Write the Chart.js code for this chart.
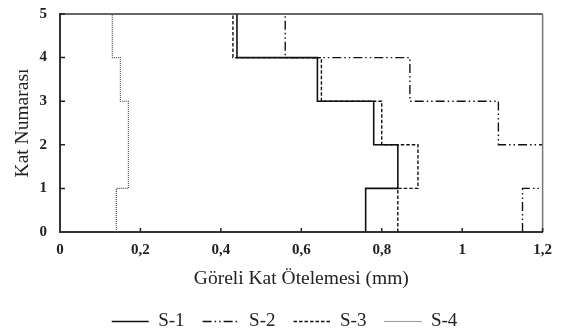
<!DOCTYPE html>
<html>
<head>
<meta charset="utf-8">
<script src="https://cdn.jsdelivr.net/npm/chart.js@4.4.1/dist/chart.umd.min.js"></script>
<style>
  html, body { margin: 0; padding: 0; background: #fff; }
  #wrap { width: 561px; height: 336px; }
</style>
</head>
<body>
<div id="wrap"><canvas id="chart-drift"></canvas></div>
<script>
// ---- DATA: relative storey drift (mm) per storey ----
const storeys = [1, 2, 3, 4, 5];
const driftS1 = [0.76, 0.84, 0.78, 0.64, 0.44];
const driftS2 = [1.15, 1.23, 1.09, 0.87, 0.56];
const driftS3 = [0.84, 0.89, 0.80, 0.65, 0.43];
const driftS4 = [0.14, 0.17, 0.17, 0.15, 0.13];
const xTicks = [0, 0.2, 0.4, 0.6, 0.8, 1, 1.2];
const yTicks = [0, 1, 2, 3, 4, 5];

// Build a step profile: each storey is a vertical segment from floor (n-1) to n
function stepPoints(values) {
  const pts = [];
  values.forEach((v, i) => {
    pts.push({ x: v, y: storeys[i] - 1 });
    pts.push({ x: v, y: storeys[i] });
  });
  return pts;
}

const SERIF = "'Liberation Serif', 'Times New Roman', serif";
const fmtComma = v => String(Math.round(v * 10) / 10).replace('.', ',');

// ---- Inward tick marks + top/right frame ----
const frameTicks = {
  id: 'frameTicks',
  afterLayout(chart) {
    // nudge the legend row a little to the right
    if (chart.legend) { chart.legend.left += 7; chart.legend.right += 7; }
  },
  afterDatasetsDraw(chart) {
    const { ctx, chartArea: a, scales: { x, y } } = chart;
    ctx.save();
    ctx.lineWidth = 1.5;
    ctx.strokeStyle = '#333';
    ctx.beginPath();
    ctx.moveTo(a.left, a.top);
    ctx.lineTo(a.right, a.top);
    ctx.stroke();
    ctx.strokeStyle = '#777';
    ctx.beginPath();
    ctx.moveTo(a.right, a.top);
    ctx.lineTo(a.right, a.bottom);
    ctx.stroke();

    ctx.strokeStyle = '#222';
    ctx.lineWidth = 1.5;
    ctx.beginPath();
    xTicks.slice(1).forEach(v => {
      const px = x.getPixelForValue(v);
      ctx.moveTo(px, a.bottom);
      ctx.lineTo(px, a.bottom - 4);
    });
    yTicks.slice(1).forEach(v => {
      const py = y.getPixelForValue(v);
      ctx.moveTo(a.left, py);
      ctx.lineTo(a.left + 5, py);
    });
    ctx.stroke();
    ctx.restore();
  }
};

function makeSet(label, values, color, width, dash) {
  return {
    label: label,
    data: stepPoints(values),
    showLine: true,
    borderColor: color,
    backgroundColor: color,
    borderWidth: width,
    borderDash: dash,
    pointRadius: 0,
    fill: false,
    clip: 0,
  };
}

// legend items keep the dataset dash pattern
function dashedLabels(chart) {
  const items = Chart.defaults.plugins.legend.labels.generateLabels(chart);
  items.forEach(it => {
    const ds = chart.data.datasets[it.datasetIndex];
    it.lineDash = ds.borderDash;
    it.lineWidth = ds.borderWidth;
    it.strokeStyle = ds.borderColor;
  });
  return items;
}

new Chart(document.getElementById('chart-drift'), {
  type: 'scatter',
  data: {
    datasets: [
      makeSet('S-1', driftS1, '#111', 1.6, []),
      makeSet('S-2', driftS2, '#111', 1.4, [9, 3, 1.5, 3, 1.5, 3]),
      makeSet('S-3', driftS3, '#111', 1.4, [3.5, 2]),
      makeSet('S-4', driftS4, '#444', 1.1, [1, 1]),
    ]
  },
  options: {
    responsive: true,
    maintainAspectRatio: false,
    animation: false,
    layout: { padding: { top: 14, right: 6, left: 0, bottom: -5 } },
    plugins: {
      tooltip: { enabled: false },
      legend: {
        position: 'bottom',
        labels: {
          color: '#222',
          font: { family: SERIF, size: 19 },
          usePointStyle: true,
          pointStyle: 'line',
          pointStyleWidth: 37,
          boxHeight: 8,
          padding: 18,
          generateLabels: dashedLabels,
        }
      }
    },
    scales: {
      x: {
        type: 'linear',
        min: 0, max: 1.2,
        afterBuildTicks: s => { s.ticks = xTicks.map(v => ({ value: v })); },
        afterFit: s => { s.height = 62; },
        grid: { display: false, drawTicks: false },
        border: { display: true, color: '#333', width: 2 },
        ticks: {
          color: '#222',
          font: { family: SERIF, size: 15, weight: 'bold' },
          padding: 9,
          maxRotation: 0,
          callback: v => fmtComma(v),
        },
        title: {
          display: true,
          text: 'Göreli Kat Ötelemesi (mm)',
          color: '#222',
          font: { family: SERIF, size: 19.5 },
          padding: { top: 0, bottom: 3 },
        }
      },
      y: {
        type: 'linear',
        min: 0, max: 5,
        afterBuildTicks: s => { s.ticks = yTicks.map(v => ({ value: v })); },
        afterFit: s => { s.width = 60; s.paddingTop = 0; s.paddingBottom = 0; },
        grid: { display: false, drawTicks: false },
        border: { display: true, color: '#333', width: 2 },
        ticks: {
          color: '#222',
          font: { family: SERIF, size: 15, weight: 'bold' },
          padding: 13,
        },
        title: {
          display: true,
          text: 'Kat Numarası',
          color: '#222',
          font: { family: SERIF, size: 19.5 },
          padding: { top: 11, bottom: 9 },
        }
      }
    }
  },
  plugins: [frameTicks]
});
</script>
</body>
</html>
